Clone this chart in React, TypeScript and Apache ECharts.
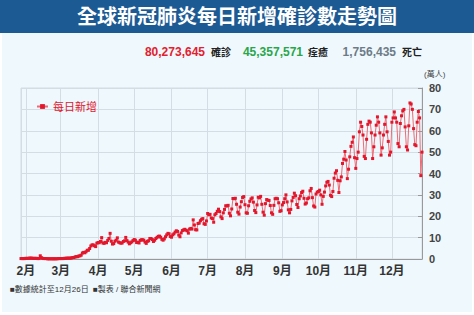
import React, { useEffect, useRef } from "react";
import * as echarts from "echarts";

const TITLE = "全球新冠肺炎每日新增確診數走勢圖";
const SERIES_NAME = "每日新增";
const Y_UNIT = "(萬人)";
const STATS = [
  { text: "80,273,645", kind: "num", color: "#e3202e" },
  { text: "確診", kind: "label" },
  { text: "45,357,571", kind: "num", color: "#2aa54a" },
  { text: "痊癒", kind: "label" },
  { text: "1,756,435", kind: "num", color: "#6d7b87" },
  { text: "死亡", kind: "label" },
];
const FOOTER = ["■數據統計至12月26日", "■製表 / 聯合新聞網"];

// daily new cases (萬人), 2020
const jan = [0.2, 0.2, 0.2, 0.2]; // Jan 28-31
const feb = [0.3, 0.3, 0.3, 0.4, 0.4, 0.4, 0.3, 0.3, 0.3, 0.3, 0.2, 0.2, 1.5, 0.6, 0.3, 0.2, 0.2, 0.2, 0.1, 0.1, 0.1, 0.1, 0.1, 0.1, 0.1, 0.1, 0.1, 0.2, 0.2];
const mar = [0.2, 0.2, 0.2, 0.3, 0.3, 0.4, 0.4, 0.4, 0.4, 0.5, 0.7, 0.7, 1.0, 1.1, 1.1, 1.4, 1.5, 1.8, 2.8, 3.1, 2.9, 3.4, 4.1, 4.1, 4.9, 6.1, 6.6, 6.6, 6.2, 5.8, 7.4];
const apr = [7.7, 7.6, 8.2, 10.0, 7.5, 7.3, 7.8, 7.6, 8.7, 9.6, 12.0, 8.3, 7.0, 7.2, 8.3, 8.8, 9.9, 7.9, 7.6, 7.4, 7.5, 8.2, 8.5, 10.1, 8.6, 7.9, 7.1, 7.6, 8.0, 8.6];
const may = [9.1, 8.8, 7.7, 7.9, 7.5, 8.7, 9.0, 9.0, 8.8, 7.9, 7.3, 8.3, 8.5, 9.6, 9.6, 9.1, 8.2, 8.8, 9.6, 10.1, 10.6, 10.7, 10.2, 9.2, 8.8, 9.4, 10.4, 11.3, 12.0, 11.8, 10.5];
const jun = [10.2, 11.3, 11.8, 12.6, 13.2, 12.9, 11.2, 10.4, 12.2, 13.3, 13.6, 13.9, 13.5, 13.2, 12.1, 14.0, 14.3, 14.0, 18.3, 15.9, 13.7, 13.6, 16.6, 16.8, 17.9, 18.6, 18.9, 16.5, 16.2, 17.8];
const jul = [21.3, 20.7, 20.9, 19.2, 18.9, 17.2, 20.7, 21.3, 22.3, 23.3, 22.2, 19.7, 18.9, 21.6, 23.2, 24.9, 24.8, 25.1, 21.4, 20.2, 23.4, 28.3, 28.2, 28.4, 25.6, 21.9, 21.0, 24.3, 26.8, 28.8, 29.2];
const aug = [25.4, 21.6, 21.4, 24.9, 27.0, 28.1, 28.6, 26.6, 22.7, 21.7, 25.3, 28.9, 28.6, 29.3, 25.6, 21.9, 20.5, 25.9, 27.8, 27.5, 27.4, 25.0, 21.6, 20.9, 25.1, 28.2, 28.4, 28.2, 26.3, 22.3, 22.6];
const sep = [25.3, 26.4, 28.2, 30.0, 26.7, 23.0, 21.6, 23.2, 27.2, 28.8, 30.8, 29.6, 25.5, 24.1, 28.2, 29.5, 31.1, 31.7, 28.4, 25.7, 26.2, 28.2, 28.6, 31.9, 33.0, 28.7, 24.8, 24.3, 30.4, 31.3];
const oct = [31.6, 32.2, 30.0, 25.6, 29.3, 31.3, 34.2, 35.9, 36.3, 34.6, 29.8, 29.2, 31.6, 37.8, 40.2, 41.3, 36.8, 31.1, 36.6, 38.4, 44.7, 46.7, 50.3, 46.3, 37.6, 42.0, 47.8, 52.7, 54.6, 57.1, 47.4];
const nov = [42.4, 47.0, 50.0, 59.5, 64.0, 62.0, 58.0, 48.0, 47.0, 56.0, 63.0, 64.5, 64.0, 59.0, 47.0, 52.5, 58.0, 62.6, 66.5, 64.0, 59.0, 48.6, 52.0, 58.0, 63.0, 66.5, 59.5, 55.0, 48.6, 50.0];
const dec = [64.0, 66.0, 68.8, 66.0, 64.0, 54.0, 52.5, 63.4, 67.0, 69.3, 70.0, 61.8, 52.5, 51.0, 62.3, 73.0, 72.5, 70.0, 61.0, 53.5, 53.0, 64.0, 69.0, 66.0, 39.0, 50.0];

const MONTHS = [
  { m: 0, start: 28, vals: jan },
  { m: 1, start: 1, vals: feb },
  { m: 2, start: 1, vals: mar },
  { m: 3, start: 1, vals: apr },
  { m: 4, start: 1, vals: may },
  { m: 5, start: 1, vals: jun },
  { m: 6, start: 1, vals: jul },
  { m: 7, start: 1, vals: aug },
  { m: 8, start: 1, vals: sep },
  { m: 9, start: 1, vals: oct },
  { m: 10, start: 1, vals: nov },
  { m: 11, start: 1, vals: dec },
];

const FONT = "'Liberation Sans', 'Noto Sans CJK TC', sans-serif";
const DAY = 86400000;

export default function App() {
  const ref = useRef<HTMLDivElement>(null);
  useEffect(() => {
    if (!ref.current) return;
    const chart = echarts.init(ref.current, null, { renderer: "svg" });
    const data: [number, number][] = [];
    MONTHS.forEach(({ m, start, vals }) => {
      vals.forEach((v, i) => data.push([new Date(2020, m, start + i).getTime(), v]));
    });
    const xMin = new Date(2020, 0, 28).getTime();
    const xMax = new Date(2020, 11, 26).getTime();

    // numbers right-aligned at their end, labels left-aligned at their start
    const statX = [205, 211, 303, 308, 396, 402];
    const statGraphics = STATS.map((s, i) => ({
      type: "text",
      x: statX[i],
      y: 52,
      style: {
        text: s.text,
        fill: s.kind === "num" ? s.color : "#222",
        font: s.kind === "num" ? `bold 12px ${FONT}` : `bold 10px ${FONT}`,
        align: s.kind === "num" ? "right" : "left",
        textAlign: s.kind === "num" ? "right" : "left",
        verticalAlign: "middle",
        textVerticalAlign: "middle",
      },
    }));

    chart.setOption({
      animation: false,
      textStyle: { fontFamily: FONT },
      graphic: [
        { type: "rect", z: -10, shape: { x: 2, y: 0, width: 470, height: 312 }, style: { fill: "#eef8fd" } },
        { type: "rect", z: -9, shape: { x: 0, y: 0, width: 474, height: 33 }, style: { fill: "#1c5a94" } },
        {
          type: "text",
          x: 237,
          y: 17,
          style: {
            text: TITLE,
            fill: "#ffffff",
            font: `bold 20px ${FONT}`,
            align: "center",
            textAlign: "center",
            verticalAlign: "middle",
            textVerticalAlign: "middle",
          },
        },
        ...statGraphics,
        {
          type: "text",
          x: 10,
          y: 289,
          style: { text: FOOTER[0], fill: "#333", font: `8px ${FONT}`, verticalAlign: "middle", textVerticalAlign: "middle" },
        },
        {
          type: "text",
          x: 93,
          y: 289,
          style: { text: FOOTER[1], fill: "#333", font: `8px ${FONT}`, verticalAlign: "middle", textVerticalAlign: "middle" },
        },
      ],
      legend: {
        left: 31,
        top: 96,
        itemWidth: 11,
        itemHeight: 6,
        itemGap: 4,
        textStyle: { color: "#e3162b", fontSize: 11, fontFamily: FONT },
        data: [SERIES_NAME],
      },
      grid: {
        left: 21,
        right: 52,
        top: 88,
        bottom: 56,
        show: true,
        borderColor: "#d3dde3",
        borderWidth: 1,
        backgroundColor: "transparent",
      },
      xAxis: {
        type: "time",
        min: xMin,
        max: xMax,
        splitNumber: 11,
        minInterval: 28 * DAY,
        maxInterval: 31 * DAY,
        axisLine: { lineStyle: { color: "#999" } },
        axisTick: { show: false },
        axisLabel: {
          formatter: (v: number) => `${new Date(v).getMonth() + 1}月`,
          color: "#333",
          fontWeight: "bold",
          fontSize: 12,
          margin: 6,
          showMinLabel: false,
          showMaxLabel: false,
          hideOverlap: false,
        },
        splitLine: { show: true, lineStyle: { color: "#d3dde3" } },
      },
      yAxis: {
        type: "value",
        position: "right",
        min: 0,
        max: 80,
        interval: 10,
        name: Y_UNIT,
        nameLocation: "end",
        nameGap: 10,
        nameTextStyle: { fontSize: 8, color: "#444", align: "left", padding: [0, 0, 0, 2] },
        axisLine: { show: true, lineStyle: { color: "#999" } },
        axisTick: { show: true, inside: true, length: 4, lineStyle: { color: "#999" } },
        axisLabel: { color: "#444", fontWeight: "bold", fontSize: 11, margin: 7 },
        splitLine: { lineStyle: { color: "#d3dde3" } },
      },
      series: [
        {
          type: "line",
          name: SERIES_NAME,
          data,
          symbol: "rect",
          symbolSize: 3,
          showAllSymbol: true,
          lineStyle: { width: 1, color: "#ef6a74" },
          itemStyle: { color: "#e3162b" },
        },
      ],
    });
    return () => chart.dispose();
  }, []);
  return (
    <div
      ref={ref}
      style={{ position: "absolute", left: 0, top: 0, width: 474, height: 315, background: "#fff" }}
    />
  );
}
